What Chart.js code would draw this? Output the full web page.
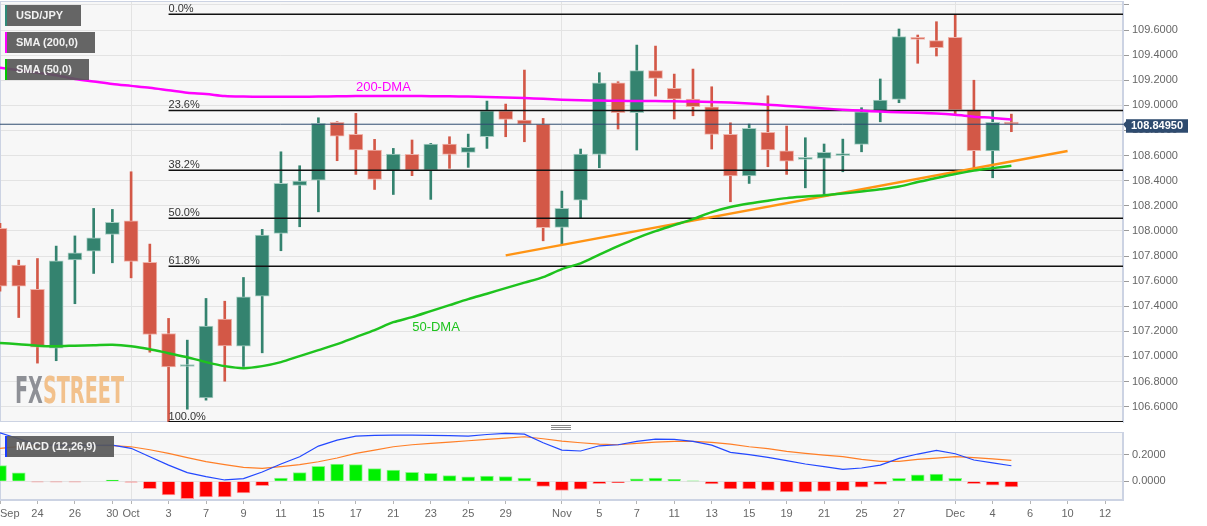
<!DOCTYPE html>
<html>
<head>
<meta charset="utf-8">
<title>USD/JPY</title>
<script src="https://cdn.jsdelivr.net/npm/chart.js@4.4.1/dist/chart.umd.min.js"></script>
<style>
  body { margin: 0; background: #fff; }
  #wrap { position: relative; width: 1207px; height: 526px; overflow: hidden; font-family: 'Liberation Sans', Arial, sans-serif; }
  canvas { position: absolute; left: 0; }
  #main_chart { top: 0; }
  #macd_chart { top: 426px; }
  .tag { position: absolute; left: 5px; height: 21px; line-height: 21px; background: rgba(88, 88, 88, 0.92); color: #f2f2f2; font-size: 11px; font-weight: bold; padding-left: 11px; box-sizing: border-box; }
  .tag i { position: absolute; left: 0; top: 0; width: 2px; height: 100%; }
  #watermark { position: absolute; left: 15px; top: 371px; font-family: 'DejaVu Sans Condensed', 'DejaVu Sans', sans-serif; font-weight: bold; font-size: 38px; line-height: 1; transform-origin: 0 0; white-space: nowrap; pointer-events: none; }
  .grip { position: absolute; left: 551px; width: 20px; height: 1px; background: #8a8a8a; }
</style>
</head>
<body>
<div id="wrap">
  <canvas id="main_chart" width="1207" height="424"></canvas>
  <canvas id="macd_chart" width="1207" height="100"></canvas>
  <div class="tag" style="top:5px;width:76px"><i style="background:#2f8a78"></i>USD/JPY</div>
  <div class="tag" style="top:32px;width:90px"><i style="background:#ff00ff"></i>SMA (200,0)</div>
  <div class="tag" style="top:59px;width:84px"><i style="background:#00c800"></i>SMA (50,0)</div>
  <div class="tag" style="top:436px;width:109px"><i style="background:#1a3cff"></i>MACD (12,26,9)</div>
  <div id="watermark"><span style="color:#8e9096">FX</span><span style="color:#f2c18c">STREET</span></div>
  <div class="grip" style="top:425px"></div>
  <div class="grip" style="top:427px"></div>
  <div class="grip" style="top:429px"></div>
</div>
<script>
// trading days Sep 20 .. Dec 5, index 0 = Sep 20
const open_ = [108.02, 107.727, 107.534, 107.066, 107.769, 107.839, 107.972, 108.08, 107.749, 107.183,
    106.92, 106.67, 107.297, 107.082, 107.48, 107.98, 108.363, 108.405, 108.865, 108.769,
    108.644, 108.479, 108.61, 108.484, 108.692, 108.625, 108.75, 108.957, 108.883, 108.849,
    108.028, 108.245, 108.61, 109.18, 108.941, 109.276, 109.135, 109.05, 108.989, 108.769,
    108.437, 108.785, 108.638, 108.57, 108.578, 108.60, 108.689, 108.955, 109.048, 109.542,
    109.515, 109.542, 108.963, 108.636, 108.865];
const high_ = [108.06, 107.767, 107.78, 107.879, 107.96, 108.179, 108.171, 108.471, 107.895, 107.303,
    107.13, 107.462, 107.44, 107.629, 108.012, 108.63, 108.519, 108.901, 108.87, 108.936,
    108.729, 108.657, 108.724, 108.697, 108.75, 108.771, 109.034, 109.01, 109.281, 108.896,
    108.317, 108.652, 109.26, 109.188, 109.48, 109.472, 109.249, 109.289, 109.148, 108.861,
    108.851, 109.076, 108.835, 108.742, 108.692, 108.731, 108.981, 109.21, 109.608, 109.56,
    109.666, 109.725, 109.2, 108.957, 108.93];
const low_ = [107.52, 107.31, 106.947, 106.966, 107.42, 107.661, 107.746, 107.626, 107.034, 106.479,
    106.58, 106.652, 106.803, 106.92, 107.029, 107.842, 108.033, 108.152, 108.559, 108.45,
    108.33, 108.29, 108.44, 108.251, 108.498, 108.506, 108.657, 108.75, 108.71, 107.921,
    107.892, 108.1, 108.503, 108.811, 108.644, 109.074, 108.891, 108.917, 108.652, 108.232,
    108.378, 108.511, 108.45, 108.343, 108.29, 108.471, 108.63, 108.869, 109.021, 109.335,
    109.393, 108.923, 108.498, 108.423, 108.79];
const close_ = [107.56, 107.56, 107.074, 107.762, 107.826, 107.945, 108.068, 107.757, 107.175, 106.917,
    106.93, 107.241, 107.084, 107.475, 107.966, 108.378, 108.397, 108.857, 108.755, 108.644,
    108.41, 108.612, 108.484, 108.692, 108.61, 108.665, 108.957, 108.888, 108.851, 108.025,
    108.179, 108.612, 109.18, 108.941, 109.276, 109.215, 109.05, 108.989, 108.769, 108.437,
    108.817, 108.644, 108.556, 108.58, 108.626, 108.61, 108.949, 109.042, 109.547, 109.526,
    109.459, 108.963, 108.638, 108.865, 108.851];

const sma200 = [109.30, 109.28, 109.26, 109.24, 109.21, 109.19, 109.17, 109.155, 109.14, 109.12,
    109.10, 109.09, 109.075, 109.07, 109.068, 109.068, 109.068, 109.07, 109.072, 109.074,
    109.075, 109.075, 109.075, 109.073, 109.072, 109.07, 109.066, 109.062, 109.058, 109.052,
    109.045, 109.04, 109.038, 109.036, 109.035, 109.034, 109.032, 109.03, 109.027, 109.022,
    109.015, 109.005, 108.995, 108.985, 108.975, 108.965, 108.958, 108.95, 108.945, 108.94,
    108.935, 108.925, 108.91, 108.9, 108.887];
const sma50 = [107.108, 107.098, 107.086, 107.082, 107.086, 107.09, 107.094, 107.082, 107.058, 107.026,
    106.994, 106.955, 106.923, 106.907, 106.923, 106.955, 107.003, 107.05, 107.098, 107.154,
    107.21, 107.273, 107.313, 107.361, 107.409, 107.457, 107.5, 107.544, 107.588, 107.632,
    107.696, 107.741, 107.811, 107.879, 107.943, 107.998, 108.046, 108.094, 108.15, 108.19,
    108.218, 108.241, 108.261, 108.273, 108.283, 108.297, 108.313, 108.331, 108.353, 108.389,
    108.421, 108.453, 108.48, 108.5, 108.519];

const trendX = [27, 57];
const trendY = [107.805, 108.636];

const fibNames = ['0.0%', '23.6%', '38.2%', '50.0%', '61.8%', '100.0%'];
const fibLevels = [109.725, 108.959, 108.483, 108.1, 107.718, 106.479];
const fibStart = 9;

const lastPrice = 108.8495;

const macdLine = [0.365, 0.32, 0.275, 0.27, 0.27, 0.27, 0.272, 0.248, 0.185, 0.122,
    0.065, 0.035, 0.01, 0.02, 0.07, 0.13, 0.185, 0.265, 0.31, 0.34,
    0.345, 0.347, 0.347, 0.345, 0.343, 0.34, 0.352, 0.36, 0.355, 0.29,
    0.235, 0.228, 0.267, 0.275, 0.3, 0.317, 0.315, 0.3, 0.272, 0.218,
    0.2, 0.18, 0.155, 0.13, 0.11, 0.09, 0.1, 0.122, 0.172, 0.205,
    0.232, 0.207, 0.16, 0.138, 0.117];
const signalLine = [0.248, 0.26, 0.268, 0.27, 0.27, 0.27, 0.268, 0.26, 0.237, 0.21,
    0.178, 0.148, 0.125, 0.105, 0.097, 0.11, 0.125, 0.147, 0.175, 0.21,
    0.235, 0.26, 0.275, 0.285, 0.295, 0.305, 0.315, 0.325, 0.335, 0.32,
    0.302, 0.29, 0.28, 0.275, 0.285, 0.295, 0.3, 0.3, 0.292, 0.28,
    0.26, 0.245, 0.225, 0.21, 0.197, 0.185, 0.165, 0.15, 0.15, 0.165,
    0.175, 0.185, 0.178, 0.168, 0.158];
const histo = [0.118, 0.063, -0.005, -0.005, -0.005, 0, 0.01, -0.006, -0.055, -0.103,
    -0.13, -0.118, -0.118, -0.088, -0.033, 0.025, 0.065, 0.113, 0.13, 0.125,
    0.095, 0.085, 0.068, 0.06, 0.043, 0.033, 0.04, 0.035, 0.025, -0.038,
    -0.068, -0.06, -0.018, -0.01, 0.018, 0.025, 0.015, 0.003, -0.02, -0.058,
    -0.058, -0.068, -0.08, -0.08, -0.075, -0.07, -0.045, -0.023, 0.023, 0.048,
    0.055, 0.023, -0.018, -0.03, -0.043];

const tickIdx = [0, 2, 4, 6, 7, 9, 11, 13, 15, 17, 19, 21, 23, 25, 27, 30, 32, 34, 36, 38, 40, 42, 44, 46, 48, 51, 53, 55, 57, 59];
const tickText = ['Sep', '24', '26', '30', 'Oct', '3', '7', '9', '11', '15', '17', '21', '23', '25', '29',
    'Nov', '5', '7', '11', '13', '15', '19', '21', '25', '27', 'Dec', '4', '6', '10', '12'];
const monthIdx = [7, 30, 51];

const xMax = 59.96;
const FONT = "'Liberation Sans', Arial, sans-serif";
const upColor = '#34836f', downColor = '#d35847';
const upEdge = '#a9cfc4', downEdge = '#efb3aa';
const gridColor = '#e3e3e3', frameColor = '#ccd3e3';

Chart.defaults.font.family = FONT;
Chart.defaults.animation = false;

const isUp = open_.map((o, i) => close_[i] >= o);
const xy = arr => arr.map((v, i) => ({x: i, y: v}));

const panelBg = {
    id: 'panelBg',
    beforeDraw(chart) {
        const {ctx, chartArea: a} = chart;
        ctx.save();
        ctx.fillStyle = '#f7f7f7';
        ctx.fillRect(a.left, a.top, a.right - a.left, a.bottom - a.top);
        ctx.restore();
    },
    beforeDatasetsDraw(chart) {
        const {ctx, chartArea: a} = chart;
        ctx.save();
        ctx.strokeStyle = frameColor;
        ctx.lineWidth = 1;
        ctx.strokeRect(a.left + 0.5, a.top + 0.5, a.right - a.left - 1, a.bottom - a.top - 1);
        ctx.restore();
    }
};

const mainText = {
    id: 'mainText',
    afterDatasetsDraw(chart) {
        const {ctx, scales: {x, y}} = chart;
        ctx.save();
        ctx.font = '11px ' + FONT;
        ctx.fillStyle = '#333';
        ctx.textAlign = 'left';
        ctx.textBaseline = 'alphabetic';
        fibLevels.forEach((lv, i) => {
            ctx.fillText(fibNames[i], x.getPixelForValue(fibStart), y.getPixelForValue(lv) - 2);
        });

        ctx.font = '13px ' + FONT;
        ctx.textAlign = 'center';
        ctx.textBaseline = 'middle';
        ctx.fillStyle = '#ff00ff';
        ctx.fillText('200-DMA', x.getPixelForValue(20.47), y.getPixelForValue(109.142));
        ctx.fillStyle = '#1ec31e';
        ctx.fillText('50-DMA', x.getPixelForValue(23.28), y.getPixelForValue(107.232));

        // price tag on the axis
        const py = y.getPixelForValue(lastPrice);
        const left = chart.chartArea.right;
        ctx.fillStyle = '#2e4b6f';
        ctx.beginPath();
        ctx.moveTo(left, py);
        ctx.lineTo(left + 4, py - 4);
        ctx.lineTo(left + 4, py + 5);
        ctx.closePath();
        ctx.fill();
        ctx.fillRect(left + 3, py - 5, 62, 13.5);
        ctx.fillStyle = '#fff';
        ctx.font = 'bold 11px ' + FONT;
        ctx.fillText('108.84950', left + 34, py + 2);
        ctx.restore();
    }
};

const fibSets = fibLevels.map(lv => ({
    type: 'line',
    data: [{x: fibStart, y: lv}, {x: xMax, y: lv}],
    borderColor: '#111',
    borderWidth: 1.5,
    pointRadius: 0,
    order: 1
}));

new Chart(document.getElementById('main_chart'), {
    type: 'bar',
    data: {
        datasets: [
            {
                type: 'line',
                data: [{x: 0, y: lastPrice}, {x: xMax, y: lastPrice}],
                borderColor: '#2e4b6f',
                borderWidth: 1,
                pointRadius: 0,
                order: 0
            },
            {
                type: 'line',
                data: xy(sma200),
                borderColor: '#ff00ff',
                borderWidth: 2.5,
                pointRadius: 0,
                tension: 0.3,
                order: 0
            },
            {
                type: 'line',
                data: xy(sma50),
                borderColor: '#1ec31e',
                borderWidth: 2.5,
                pointRadius: 0,
                tension: 0.3,
                order: 0
            },
            {
                type: 'line',
                data: trendX.map((v, i) => ({x: v, y: trendY[i]})),
                borderColor: '#ff9414',
                borderWidth: 2.5,
                pointRadius: 0,
                order: 0
            },
            ...fibSets,
            {
                data: open_.map((o, i) => ({x: i, y: [o, close_[i]]})),
                backgroundColor: isUp.map(u => u ? upColor : downColor),
                borderColor: isUp.map(u => u ? upEdge : downEdge),
                borderWidth: 1,
                borderSkipped: false,
                barThickness: 14,
                minBarLength: 2,
                grouped: false,
                order: 2
            },
            {
                data: low_.map((l, i) => ({x: i, y: [l, high_[i]]})),
                backgroundColor: isUp.map(u => u ? upColor : downColor),
                barThickness: 2,
                grouped: false,
                order: 3
            }
        ]
    },
    options: {
        responsive: false,
        events: [],
        layout: {padding: {top: 1, bottom: 2, left: 0, right: 0}},
        plugins: {legend: {display: false}, tooltip: {enabled: false}},
        scales: {
            x: {
                type: 'linear',
                min: 0,
                max: xMax,
                offset: false,
                grid: {offset: false, color: gridColor, drawTicks: false},
                border: {display: false},
                ticks: {display: false},
                afterBuildTicks: s => { s.ticks = monthIdx.map(v => ({value: v})); },
                afterFit: s => { s.height = 0; s.paddingLeft = 0; s.paddingRight = 0; }
            },
            y: {
                type: 'linear',
                position: 'right',
                min: 106.478,
                max: 109.831,
                beginAtZero: false,
                grid: {color: gridColor, tickLength: 6, tickColor: '#9a9a9a'},
                border: {color: frameColor},
                ticks: {
                    stepSize: 0.2,
                    maxTicksLimit: 30,
                    includeBounds: false,
                    padding: 3,
                    color: '#666',
                    font: {size: 11},
                    // top row has no label on the reference
                    callback: v => v > 109.7 ? '' : v.toFixed(4)
                },
                afterFit: s => { s.width = 84; s.paddingTop = 0; s.paddingBottom = 0; }
            }
        }
    },
    plugins: [panelBg, mainText]
});

new Chart(document.getElementById('macd_chart'), {
    type: 'bar',
    data: {
        datasets: [
            {
                type: 'line',
                data: xy(macdLine),
                borderColor: '#2348ff',
                borderWidth: 1.2,
                pointRadius: 0,
                order: 0
            },
            {
                type: 'line',
                data: xy(signalLine),
                borderColor: '#ff7f27',
                borderWidth: 1.2,
                pointRadius: 0,
                order: 0
            },
            {
                data: xy(histo),
                backgroundColor: histo.map(v => v >= 0 ? '#00f000' : '#ff0000'),
                borderColor: histo.map(v => v >= 0 ? '#8cf58c' : '#ff9a9a'),
                borderWidth: 1,
                barThickness: 13,
                grouped: false,
                order: 1
            }
        ]
    },
    options: {
        responsive: false,
        events: [],
        layout: {padding: {top: 6, bottom: 0, left: 0, right: 0}},
        plugins: {legend: {display: false}, tooltip: {enabled: false}},
        scales: {
            x: {
                type: 'linear',
                min: 0,
                max: xMax,
                offset: false,
                grid: {
                    offset: false,
                    color: ctx => (ctx.tick && monthIdx.includes(ctx.tick.value)) ? gridColor : 'rgba(0,0,0,0)',
                    tickColor: ctx => (ctx.tick && ctx.tick.value < xMax) ? '#b5b5b5' : 'rgba(0,0,0,0)',
                    tickLength: 4
                },
                border: {color: frameColor},
                ticks: {
                    autoSkip: false,
                    maxRotation: 0,
                    align: 'inner',
                    padding: 3,
                    color: '#666',
                    font: {size: 11},
                    callback: (v, i) => tickText[i] || ''
                },
                afterBuildTicks: s => { s.ticks = tickIdx.map(v => ({value: v})).concat([{value: xMax}]); },
                afterFit: s => { s.height = 26; s.paddingLeft = 0; s.paddingRight = 0; }
            },
            y: {
                type: 'linear',
                position: 'right',
                min: -0.1406,
                max: 0.3707,
                beginAtZero: false,
                grid: {color: gridColor, tickLength: 6, tickColor: '#9a9a9a'},
                border: {color: frameColor},
                ticks: {
                    stepSize: 0.2,
                    includeBounds: false,
                    padding: 3,
                    color: '#666',
                    font: {size: 11},
                    callback: v => v.toFixed(4)
                },
                afterFit: s => { s.width = 84; s.paddingTop = 0; s.paddingBottom = 0; }
            }
        }
    },
    plugins: [panelBg]
});

// squeeze the watermark to its width on the reference
const wm = document.getElementById('watermark');
const wmW = wm.getBoundingClientRect().width;
wm.style.transform = `scaleX(${109 / wmW})`;
</script>
</body>
</html>
